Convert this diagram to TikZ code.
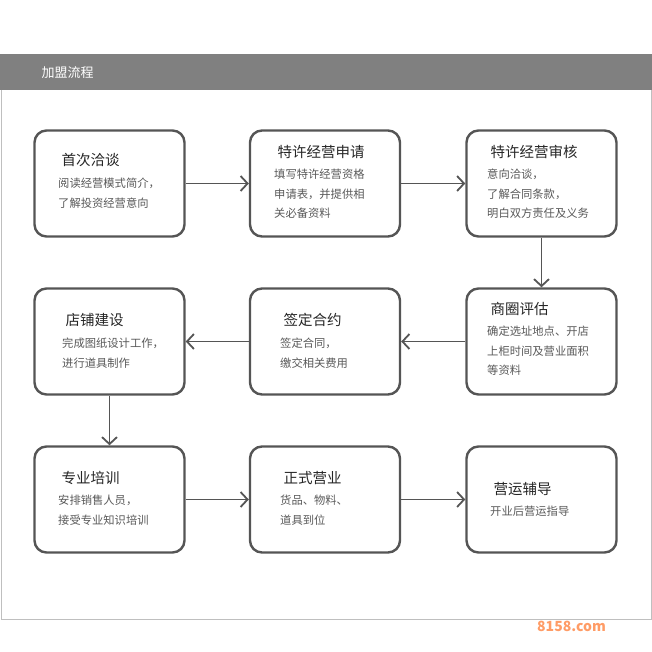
\documentclass[tikz,border=0pt]{standalone}
\usepackage{fontspec}
\setmainfont{Noto Sans CJK SC}
\usetikzlibrary{arrows.meta}
\definecolor{bd}{HTML}{555555}
\definecolor{hd}{HTML}{808080}
\begin{document}
\begin{tikzpicture}[x=1pt,y=-1pt,
  box/.style={draw=bd,line width=2.4pt,rounded corners=12pt,minimum width=150pt,minimum height=106pt,inner sep=0pt},
  ttl/.style={anchor=west,text=black!85,font=\fontsize{14.5}{16}\selectfont},
  bod/.style={anchor=north west,text=black!65,font=\fontsize{11.3}{19.5}\selectfont,align=left,inner sep=0pt},
  arr/.style={draw=bd,line width=1.8pt,-{Straight Barb[length=7pt,width=15pt,line width=1.8pt]}}]
\useasboundingbox (0,0) rectangle (652,652);
\fill[white] (0,0) rectangle (652,652);
\draw[black!25,line width=0.8pt] (1,55) rectangle (651,619);
\fill[hd] (0,54) rectangle (652,90);
\node[anchor=west,text=white,font=\fontsize{13}{15}\selectfont] (hdr) at (38,73) {加盟流程};
% boxes
\node[box] (b1) at (109.5,183.5) {};
\node[box] (b2) at (325,183.5) {};
\node[box] (b3) at (541.5,183.5) {};
\node[box] (b4) at (109.5,341.5) {};
\node[box] (b5) at (325,341.5) {};
\node[box] (b6) at (541.5,341.5) {};
\node[box] (b7) at (109.5,499.5) {};
\node[box] (b8) at (325,499.5) {};
\node[box] (b9) at (541.5,499.5) {};
% texts
\node[ttl] (t1) at (58,160) {首次洽谈};
\node[bod] (d1) at (58,178) {阅读经营模式简介，\\了解投资经营意向};
\node[ttl] (t2) at (274,152) {特许经营申请};
\node[bod] (d2) at (274,169) {填写特许经营资格\\申请表，并提供相\\关必备资料};
\node[ttl] (t3) at (487,152) {特许经营审核};
\node[bod] (d3) at (487,169) {意向洽谈，\\了解合同条款，\\明白双方责任及义务};
\node[ttl] (t4) at (62,320) {店铺建设};
\node[bod] (d4) at (62,338) {完成图纸设计工作，\\进行道具制作};
\node[ttl] (t5) at (280,320) {签定合约};
\node[bod] (d5) at (280,338) {签定合同，\\缴交相关费用};
\node[ttl] (t6) at (487,309) {商圈评估};
\node[bod] (d6) at (487,326) {确定选址地点、开店\\上柜时间及营业面积\\等资料};
\node[ttl] (t7) at (58,478) {专业培训};
\node[bod] (d7) at (58,495) {安排销售人员，\\接受专业知识培训};
\node[ttl] (t8) at (280,478) {正式营业};
\node[bod] (d8) at (280,495) {货品、物料、\\道具到位};
\node[ttl] (t9) at (490,489) {营运辅导};
\node[bod] (d9) at (490,506) {开业后营运指导};
% arrows
\draw[arr] (b1) -- (b2);
\draw[arr] (b2) -- (b3);
\draw[arr] (b3) -- (b6);
\draw[arr] (b6) -- (b5);
\draw[arr] (b5) -- (b4);
\draw[arr] (b4) -- (b7);
\draw[arr] (b7) -- (b8);
\draw[arr] (b8) -- (b9);
\node[anchor=west,text=orange!70!red!60,font=\bfseries\fontsize{14}{15}\selectfont,inner sep=0pt] (wm) at (537,626) {8158.com};
\end{tikzpicture}
\end{document}
